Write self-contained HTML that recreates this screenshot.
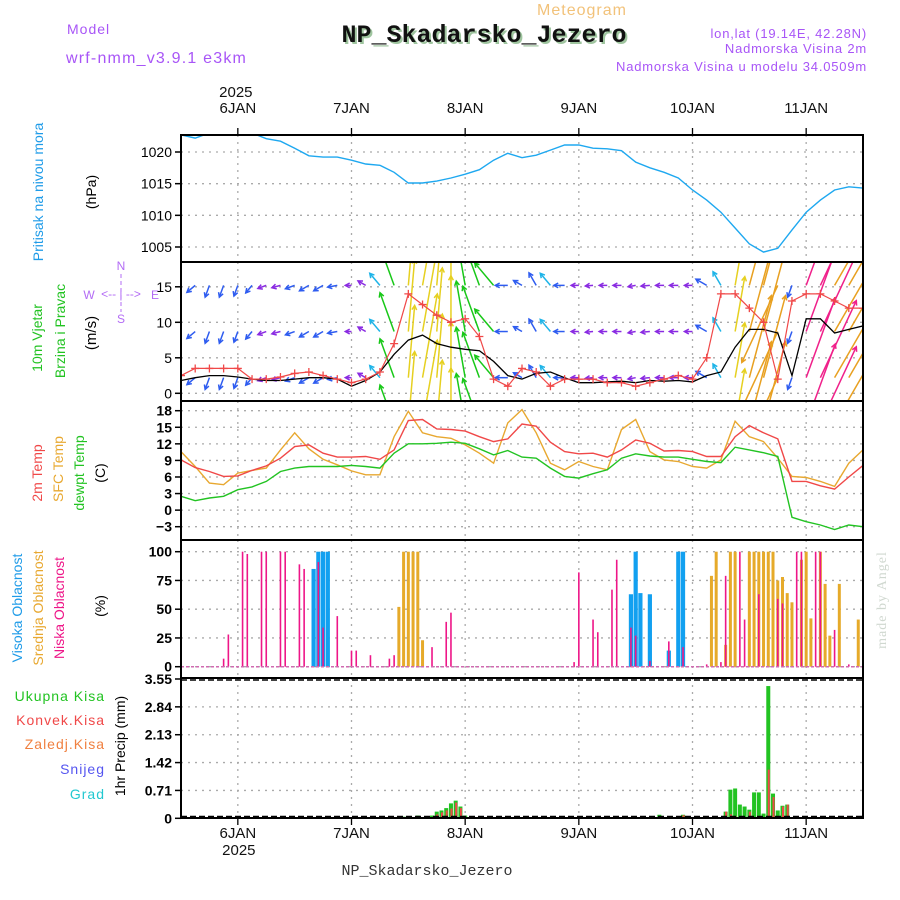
<!DOCTYPE html>
<html><head><meta charset="utf-8"><style>
html,body{margin:0;padding:0;background:#fff;width:900px;height:900px;overflow:hidden}
svg{display:block;font-family:"Liberation Sans",sans-serif}
</style></head><body>
<svg id="chart" width="900" height="900" viewBox="0 0 900 900">
<defs>
<clipPath id="clipW"><rect x="181" y="262" width="682" height="139"/></clipPath>
<clipPath id="clipP"><rect x="181" y="135" width="682" height="127"/></clipPath>
</defs>
<g>
<text x="582" y="15" text-anchor="middle" font-size="16" fill="#f2c27a" letter-spacing="1">Meteogram</text>
<text x="67" y="34" font-size="14" fill="#a855f7" letter-spacing="1">Model</text>
<text x="66" y="63" font-size="16" fill="#a855f7" letter-spacing="1.2">wrf-nmm_v3.9.1 e3km</text>
<text x="486" y="44" text-anchor="middle" font-family="Liberation Mono,monospace" font-weight="bold" font-size="25" fill="#9fc59f">NP_Skadarsko_Jezero</text>
<text x="484" y="42" text-anchor="middle" font-family="Liberation Mono,monospace" font-weight="bold" font-size="25" fill="#111">NP_Skadarsko_Jezero</text>
<text x="867" y="38" text-anchor="end" font-size="13" fill="#a855f7" letter-spacing="0.8">lon,lat (19.14E, 42.28N)</text>
<text x="867" y="53" text-anchor="end" font-size="13" fill="#a855f7" letter-spacing="0.8">Nadmorska Visina 2m</text>
<text x="867" y="71" text-anchor="end" font-size="13" fill="#a855f7" letter-spacing="0.8">Nadmorska Visina u modelu 34.0509m</text>
</g>
<g>
<text transform="translate(43,192) rotate(-90)" text-anchor="middle" font-size="14" fill="#1e9be8">Pritisak na nivou mora</text>
<text transform="translate(96,192) rotate(-90)" text-anchor="middle" font-size="14" fill="#000">(hPa)</text>
<text transform="translate(42,338) rotate(-90)" text-anchor="middle" font-size="14" fill="#22c322">10m Vjetar</text>
<text transform="translate(65,331) rotate(-90)" text-anchor="middle" font-size="14" fill="#22c322">Brzina i Pravac</text>
<text transform="translate(96,333) rotate(-90)" text-anchor="middle" font-size="15" fill="#000">(m/s)</text>
<g fill="#b36cf5" font-size="12" text-anchor="middle">
<text x="121" y="270">N</text><text x="89" y="299">W</text><text x="155" y="299">E</text><text x="121" y="323">S</text>
<text x="121" y="298" font-size="12">&lt;-- | --&gt;</text>
<line x1="121" y1="274" x2="121" y2="312" stroke="#b36cf5" stroke-dasharray="4,3"/>
</g>
<text transform="translate(42,473) rotate(-90)" text-anchor="middle" font-size="14" fill="#f04848">2m Temp</text>
<text transform="translate(63,469) rotate(-90)" text-anchor="middle" font-size="14" fill="#e8a830">SFC Temp</text>
<text transform="translate(84,473) rotate(-90)" text-anchor="middle" font-size="14" fill="#22c322">dewpt Temp</text>
<text transform="translate(105,473) rotate(-90)" text-anchor="middle" font-size="14" fill="#000">(C)</text>
<text transform="translate(22,608) rotate(-90)" text-anchor="middle" font-size="14" fill="#1e9be8">Visoka Oblacnost</text>
<text transform="translate(43,608) rotate(-90)" text-anchor="middle" font-size="14" fill="#e8a830">Srednja Oblacnost</text>
<text transform="translate(64,608) rotate(-90)" text-anchor="middle" font-size="14" fill="#ee1688">Niska Oblacnost</text>
<text transform="translate(105,606) rotate(-90)" text-anchor="middle" font-size="14" fill="#000">(%)</text>
<g font-size="14" text-anchor="end" letter-spacing="1">
<text x="105" y="701" fill="#22c322">Ukupna Kisa</text>
<text x="105" y="725" fill="#f04848">Konvek.Kisa</text>
<text x="105" y="749" fill="#f08040">Zaledj.Kisa</text>
<text x="105" y="774" fill="#5555f0">Snijeg</text>
<text x="105" y="799" fill="#22c8d0">Grad</text>
</g>
<text transform="translate(125,746) rotate(-90)" text-anchor="middle" font-size="14" fill="#000">1hr Precip (mm)</text>
</g>
<text transform="translate(886,600) rotate(-90)" text-anchor="middle" font-size="14" fill="#d0d8d0" font-family="Liberation Serif,serif" letter-spacing="1">made by Angel</text>
<text x="427" y="875" text-anchor="middle" font-family="Liberation Mono,monospace" font-size="15" fill="#333">NP_Skadarsko_Jezero</text>
<g id="plot"></g>
</svg>
<script>
// ---- data (time in hours from 5 Jan 12:00) ----
const days = ["6JAN","7JAN","8JAN","9JAN","10JAN","11JAN"];
const dayHours = [12,36,60,84,108,132];
const times3h = [0,3,6,9,12,15,18,21,24,27,30,33,36,39,42,45,48,51,54,57,60,63,66,69,72,75,78,81,84,87,90,93,96,99,102,105,108,111,114,117,120,123,126,129,132,135,138,141,144];
const pressure = [1022.7,1022.2,1023.0,1023.2,1023.2,1023.0,1022.1,1021.7,1020.6,1019.4,1019.2,1019.2,1018.7,1018.1,1017.9,1016.8,1015.1,1015.1,1015.4,1015.9,1016.5,1017.2,1018.7,1019.8,1019.1,1019.5,1020.3,1021.1,1021.1,1020.6,1020.5,1020.2,1018.4,1017.5,1016.8,1015.9,1014.0,1012.4,1010.5,1008.0,1005.5,1004.2,1004.8,1007.7,1010.5,1012.4,1014.0,1014.5,1014.3];
const pressureTicks = [1020,1015,1010,1005];
const windSpeed = [1.8,2.2,2.5,2.5,2.3,2.0,1.8,1.8,2.0,2.2,2.2,2.0,1.0,1.8,3.0,5.5,7.5,8.2,7.0,6.5,6.2,6.0,4.5,2.5,2.0,2.8,3.0,2.2,1.5,1.5,1.6,1.7,1.5,1.8,1.7,1.8,1.6,2.5,3.0,6.5,9.0,9.0,8.5,2.5,10.5,10.5,8.5,9.0,9.5];
const windGust = [2.5,3.5,3.5,3.5,3.5,2.0,2.0,2.3,2.8,3.0,2.5,2.0,1.5,2.0,3.0,7.0,14.0,12.5,11.0,10.0,10.5,8.0,2.0,1.0,3.5,3.0,1.0,2.0,2.0,2.0,1.5,1.5,1.0,1.5,2.0,2.5,2.0,5.0,14.0,14.0,12.0,10.0,2.0,13.0,14.0,14.0,13.0,12.0,12.0];
const windDir = [260,230,200,200,200,220,250,255,250,240,240,260,270,300,320,340,5,10,5,0,350,340,320,270,300,330,320,270,270,265,270,270,260,265,270,270,270,300,330,10,15,15,205,200,20,25,30,30,30];
const windTicks = [15,10,5,0];
const temp2m = [9.1,7.7,7.0,6.1,6.2,7.2,8.0,9.4,11.5,11.8,10.3,9.6,9.6,9.7,9.2,10.9,16.2,16.4,14.7,14.6,14.3,13.3,12.4,12.9,15.6,15.2,12.3,10.6,10.2,10.3,9.6,10.9,12.7,12.1,10.7,10.8,10.6,9.7,9.7,13.3,15.3,14.0,12.9,5.2,5.2,4.4,3.8,6.0,8.1];
const tempSfc = [10.6,7.9,4.9,4.6,6.7,7.2,7.6,10.9,14.0,11.1,9.2,8.2,7.1,6.4,6.4,13.3,17.9,14.0,13.3,13.0,11.8,10.3,8.5,15.8,18.2,14.0,8.5,7.3,8.8,7.9,7.3,14.6,16.4,10.6,9.1,8.8,7.9,7.6,9.1,16.1,13.3,12.4,9.4,6.1,5.9,5.2,4.3,8.5,10.9];
const dewpoint = [2.5,1.7,2.2,2.5,3.7,4.2,5.2,7.0,7.6,7.9,7.9,7.9,8.1,7.9,7.6,10.3,12.0,12.0,12.1,12.3,12.1,11.1,10.0,10.8,9.6,9.4,7.6,6.1,5.8,6.6,7.3,9.4,10.2,9.8,9.6,9.6,9.2,8.8,8.6,11.4,10.9,10.4,9.7,-1.3,-2.1,-2.7,-3.5,-2.7,-3.0];
const tempTicks = [18,15,12,9,6,3,0,-3];
const lowCloudHours = [9,10,13,14,17,18,21,22,25,26,29,30,33,36,37,40,44,45,53,56,57,83,84,87,88,91,92,95,96,99,103,106,111,114,115,118,119,122,126,127,130,131,134,135,138,141];
const lowCloudValues = [7,28,100,98,100,100,100,100,89,85,91,34,44,14,14,10,7,10,17,39,47,4,82,41,30,67,93,34,27,5,22,17,2,4,79,100,41,63,59,55,100,100,100,100,32,2];
const midCloudHours = [46,47,48,49,50,51,112,113,115,116,117,120,121,122,123,124,125,126,127,128,129,131,132,133,135,136,137,139,143];
const midCloudValues = [52,100,100,100,100,23,79,100,19,100,100,100,100,100,100,100,100,75,78,64,56,93,100,42,100,72,27,72,41];
const highCloudHours = [28,29,30,31,95,96,97,99,103,105,106];
const highCloudValues = [85,100,100,100,63,100,64,63,14,100,100];
const cloudTicks = [100,75,50,25,0];
const precipHours = [46,47,50,53,54,55,56,57,58,59,60,101,106,115,116,117,118,119,120,121,122,123,124,125,126,127,128];
const totalPrecip = [0.04,0.04,0.07,0.07,0.17,0.2,0.26,0.38,0.45,0.3,0.07,0.09,0.09,0.17,0.73,0.76,0.35,0.3,0.22,0.66,0.66,0.12,3.37,0.63,0.2,0.32,0.35];
const convPrecip = [0,0,0.05,0,0.1,0.15,0.2,0.25,0.4,0.26,0,0,0.08,0.17,0.1,0.05,0,0,0.17,0,0,0,1.24,0.54,0,0.3,0.35];
const precipTicks = [3.55,2.84,2.13,1.42,0.71,0];
const precipTickLabels = ["3.55","2.84","2.13","1.42","0.71","0"];

// ---- scales ----
const X0=181, X1=863, TMAX=144;
const xOf = t => X0 + t*(X1-X0)/TMAX;
const yP = v => 152 + (1020-v)*6.333;
const yW = v => 393.3 - v*7.1;
const yT = v => 410.7 + (18-v)*5.524;
const yC = v => 666.7 - v*1.15;
const yR = v => 818.3 - v*(139.3/3.55);
const arrowLen = s => Math.min(85, 5 + s*s*1.2);
const panels = [[135,262,'pressure-panel'],[262,401,'wind-panel'],[401,540,'temperature-panel'],[540,678,'cloud-panel'],[678,818,'precip-panel']];

const NS='http://www.w3.org/2000/svg';
const plot=document.getElementById('plot');
function mk(tag,attrs,parent){const e=document.createElementNS(NS,tag);for(const k in attrs)e.setAttribute(k,attrs[k]);(parent||plot).appendChild(e);return e;}
function grp(name){const g=mk('g',{});


return g;}

// grid
const grid=grp('grid');
panels.forEach(p=>{dayHours.forEach(h=>{mk('line',{x1:xOf(h),x2:xOf(h),y1:p[0],y2:p[1],stroke:'#aaa','stroke-dasharray':'2,5','stroke-width':1.3},grid);});});
function hgrid(vals,f){vals.forEach(v=>mk('line',{x1:X0,x2:X1,y1:f(v),y2:f(v),stroke:'#aaa','stroke-dasharray':'2,5','stroke-width':1.3},grid));}
hgrid(pressureTicks,yP);hgrid(windTicks,yW);hgrid(tempTicks,yT);hgrid(cloudTicks,yC);hgrid(precipTicks.slice(1,5),yR);

// ticks and labels
function yticks(vals,labels,f,name,bold){const g=grp(name);vals.forEach((v,i)=>{const y=f(v);
mk('line',{x1:X0-6,x2:X0,y1:y,y2:y,stroke:'#000','stroke-width':1.5},g);
const t=mk('text',{x:X0-9,y:y+5,'text-anchor':'end','font-size':14,'font-weight':bold?'bold':'normal',fill:'#000'},g);t.textContent=labels[i];});}
yticks(pressureTicks,pressureTicks.map(String),yP,'pressure-y-axis');
yticks(windTicks,windTicks.map(String),yW,'wind-y-axis');
yticks(tempTicks,tempTicks.map(v=>v<0?'\u2212'+(-v):String(v)),yT,'temperature-y-axis',true);
yticks(cloudTicks,cloudTicks.map(String),yC,'cloud-y-axis',true);
yticks(precipTicks,precipTickLabels,yR,'precip-y-axis',true);

// x axes
const xt=grp('top-x-axis');const xb=grp('bottom-x-axis');
days.forEach((d,i)=>{const x=xOf(dayHours[i]);
mk('line',{x1:x,x2:x,y1:128,y2:135,stroke:'#000','stroke-width':1.3},xt);
const a=mk('text',{x:x,y:113,'text-anchor':'middle','font-size':15,fill:'#111'},xt);a.textContent=d;
mk('line',{x1:x,x2:x,y1:818,y2:825,stroke:'#000','stroke-width':1.3},xb);
const b=mk('text',{x:x,y:838,'text-anchor':'middle','font-size':15,fill:'#111'},xb);b.textContent=d;});
{const a=mk('text',{x:xOf(12)-2,y:97,'text-anchor':'middle','font-size':15,fill:'#111'},xt);a.textContent='2025';
const b=mk('text',{x:xOf(12)+1,y:855,'text-anchor':'middle','font-size':15,fill:'#111'},xb);b.textContent='2025';}

function line(vals,f,color,name,clip,w){const pts=times3h.map((t,i)=>xOf(t).toFixed(1)+','+f(vals[i]).toFixed(1)).join(' ');
const e=mk('polyline',{points:pts,fill:'none',stroke:color,'stroke-width':w||1.4});


if(clip)e.setAttribute('clip-path',clip);return e;}

// pressure
line(pressure,yP,'#1ea8f0','pressure-line','url(#clipP)');

// wind arrows
const wg=grp('wind-arrows');wg.setAttribute('clip-path','url(#clipW)');
function wcol(s){return s<2?'#8a2be2':s<3?'#2e5cf0':s<4.5?'#1eb4e8':s<6.5?'#18c818':s<8.5?'#e6d020':s<10?'#e8a020':'#f0208a';}
const rows=[-4.3,2.2,8.7,15.2];
times3h.forEach((t,i)=>{const s=windSpeed[i],d=windDir[i]*Math.PI/180,L=arrowLen(s);
rows.forEach(r=>{const x0=xOf(t),y0=yW(r),x1=x0+Math.sin(d)*L,y1=y0-Math.cos(d)*L;
const a=mk('g',{stroke:wcol(s),'stroke-width':1.5,fill:'none'},wg);


mk('line',{x1:x0,y1:y0,x2:x1,y2:y1},a);
const ang=Math.atan2(y1-y0,x1-x0),h=5;
mk('polyline',{points:`${x1-h*Math.cos(ang-0.5)},${y1-h*Math.sin(ang-0.5)} ${x1},${y1} ${x1-h*Math.cos(ang+0.5)},${y1-h*Math.sin(ang+0.5)}`},a);});});
line(windSpeed,yW,'#000','wind-speed-line','url(#clipW)',1.3);
line(windGust,yW,'#f04848','wind-gust-line','url(#clipW)',1.2);
const gm=grp('gust-markers');gm.setAttribute('clip-path','url(#clipW)');
times3h.forEach((t,i)=>{const x=xOf(t),y=yW(windGust[i]);
mk('path',{d:`M${x-4},${y}H${x+4}M${x},${y-4}V${y+4}`,stroke:'#f04848','stroke-width':1.3},gm);});

// temperatures
line(tempSfc,yT,'#e8a830','sfc-temp-line');
line(temp2m,yT,'#f04848','temp-2m-line');
line(dewpoint,yT,'#22c322','dewpoint-line');

// clouds
function bars(hours,vals,color,w,name){const g=grp(name);hours.forEach((h,i)=>{const x=xOf(h),y=yC(vals[i]);
const r=mk('rect',{x:x-w/2,y:y,width:w,height:yC(0)-y,fill:color},g);

});}
bars(highCloudHours,highCloudValues,'#12a0f0',4.2,'high-cloud');
bars(midCloudHours,midCloudValues,'#e6aa2a',3,'mid-cloud');
bars(lowCloudHours,lowCloudValues,'#ee1688',1.6,'low-cloud');
mk('line',{x1:X0,x2:X1,y1:yC(0),y2:yC(0),stroke:'#d06ab0','stroke-width':1.5,'stroke-dasharray':'3,2'});

// precipitation
const pg=grp('precip-bars');
precipHours.forEach((h,i)=>{const x=xOf(h);
const g=mk('rect',{x:x-2,y:yR(totalPrecip[i]),width:4,height:yR(0)-yR(totalPrecip[i]),fill:'#22c322'},pg);


if(convPrecip[i]>0){const r=mk('rect',{x:x-0.5,y:yR(convPrecip[i]),width:2,height:yR(0)-yR(convPrecip[i]),fill:'#f04848'},pg);

}});
mk('line',{x1:X0,x2:X1,y1:680,y2:680,stroke:'#000','stroke-width':1.5,'stroke-dasharray':'6,3'});
mk('line',{x1:X0,x2:X1,y1:816.5,y2:816.5,stroke:'#000','stroke-width':1.5,'stroke-dasharray':'6,3'});

// frames
panels.forEach(p=>{const r=mk('rect',{x:X0,y:p[0],width:X1-X0,height:p[1]-p[0],fill:'none',stroke:'#000','stroke-width':2});

});
</script>
</body></html>
